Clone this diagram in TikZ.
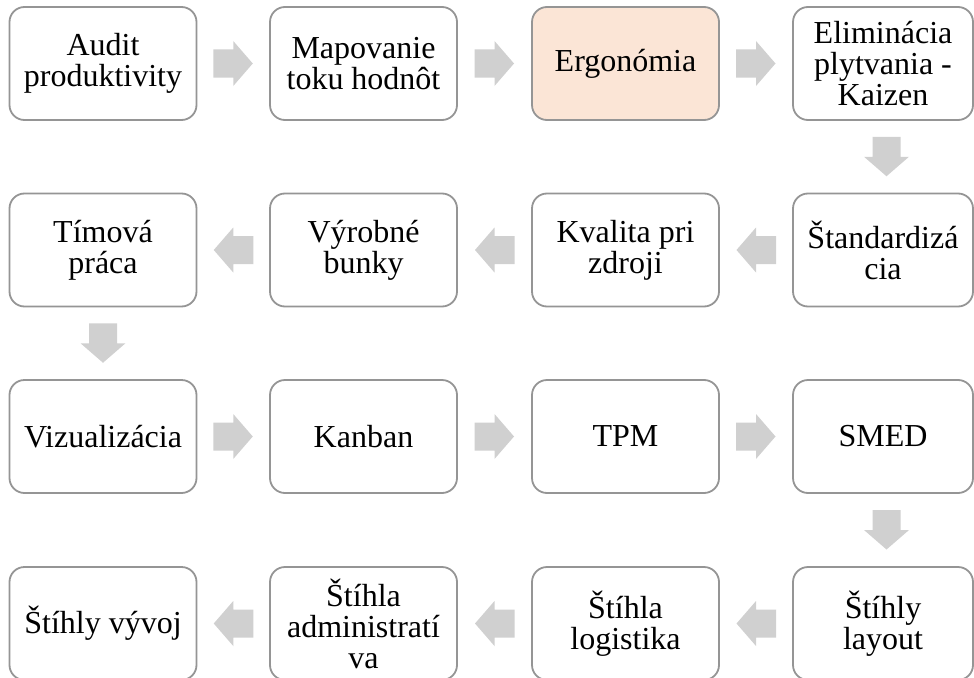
\documentclass[tikz,border=0pt]{standalone}
\usepackage{fontspec}
\setmainfont{Liberation Serif}
\usetikzlibrary{calc}
\definecolor{boxline}{HTML}{959595}
\definecolor{arrowgray}{HTML}{D0D0D0}
\definecolor{peach}{HTML}{FBE5D6}
\tikzset{
  box/.style={draw=boxline, line width=1.8pt, rounded corners=15pt, fill=white,
    minimum width=187pt, minimum height=113pt, inner sep=0pt, outer sep=0pt,
    align=center, font=\fontsize{32}{31}\selectfont},
  narrowbox/.style={box, minimum width=180pt},
  blockarrow/.pic={\fill[arrowgray] (-20,-14) -- (0,-14) -- (0,-22.5) -- (19.5,0) -- (0,22.5) -- (0,14) -- (-20,14) -- cycle;}
}
\begin{document}
\begin{tikzpicture}[x=1pt,y=-1pt]
\clip (0,0) rectangle (974,677);
\fill[white] (0,0) rectangle (974,677);
% row 1
\node[box] (a1) at (103,63.5) {Audit\\produktivity};
\node[box] (a2) at (363.5,63.5) {Mapovanie\\toku hodnôt};
\node[box, fill=peach] (a3) at (625.5,63.5) {Ergonómia};
\node[narrowbox] (a4) at (883,63.5) {Eliminácia\\plytvania -\\Kaizen};
% row 2
\node[narrowbox] (b4) at (883,250) {Štandardizá\\cia};
\node[box] (b3) at (625.5,250) {Kvalita pri\\zdroji};
\node[box] (b2) at (363.5,250) {Výrobné\\bunky};
\node[box] (b1) at (103,250) {Tímová\\práca};
% row 3
\node[box] (c1) at (103,436.5) {Vizualizácia};
\node[box] (c2) at (363.5,436.5) {Kanban};
\node[box] (c3) at (625.5,436.5) {TPM};
\node[narrowbox] (c4) at (883,436.5) {SMED};
% row 4
\node[narrowbox] (d4) at (883,623.5) {Štíhly\\layout};
\node[box] (d3) at (625.5,623.5) {Štíhla\\logistika};
\node[box] (d2) at (363.5,623.5) {Štíhla\\administratí\\va};
\node[box] (d1) at (103,623.5) {Štíhly vývoj};
% arrows
\path ($(a1.east)!0.5!(a2.west)$) pic {blockarrow};
\path ($(a2.east)!0.5!(a3.west)$) pic {blockarrow};
\path ($(a3.east)!0.5!(a4.west)$) pic {blockarrow};
\path ($(a4.south)!0.5!(b4.north)+(3.5,0)$) pic[rotate=-90] {blockarrow};
\path ($(b4.west)!0.5!(b3.east)$) pic[rotate=180] {blockarrow};
\path ($(b3.west)!0.5!(b2.east)$) pic[rotate=180] {blockarrow};
\path ($(b2.west)!0.5!(b1.east)$) pic[rotate=180] {blockarrow};
\path ($(b1.south)!0.5!(c1.north)$) pic[rotate=-90] {blockarrow};
\path ($(c1.east)!0.5!(c2.west)$) pic {blockarrow};
\path ($(c2.east)!0.5!(c3.west)$) pic {blockarrow};
\path ($(c3.east)!0.5!(c4.west)$) pic {blockarrow};
\path ($(c4.south)!0.5!(d4.north)+(3.5,0)$) pic[rotate=-90] {blockarrow};
\path ($(d4.west)!0.5!(d3.east)$) pic[rotate=180] {blockarrow};
\path ($(d3.west)!0.5!(d2.east)$) pic[rotate=180] {blockarrow};
\path ($(d2.west)!0.5!(d1.east)$) pic[rotate=180] {blockarrow};
\end{tikzpicture}
\end{document}
